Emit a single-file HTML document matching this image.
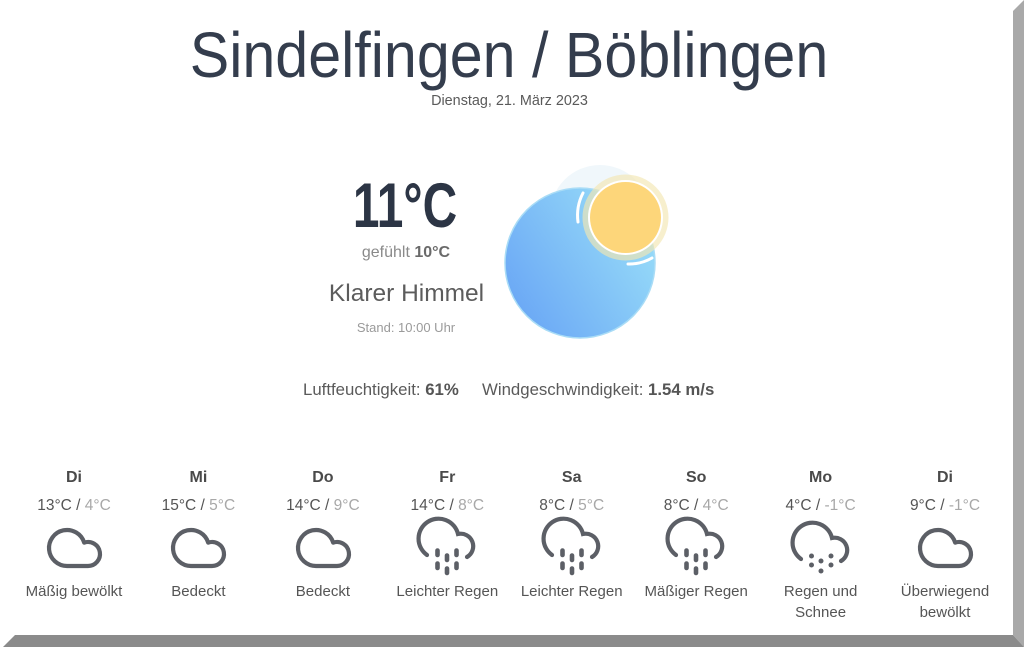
<!DOCTYPE html>
<html><head><meta charset="utf-8">
<style>
html,body{margin:0;padding:0;background:#fff;}
body{width:1024px;height:647px;position:relative;overflow:hidden;font-family:"Liberation Sans",Arial,sans-serif;}
.t{position:absolute;line-height:1;white-space:nowrap;text-align:center;}
.col{position:absolute;width:124px;text-align:center;}
.day{position:absolute;left:0;width:124px;top:470px;font-size:16px;font-weight:bold;color:#4a4a4a;line-height:1;}
.tmp{position:absolute;left:-10px;width:144px;top:497.5px;font-size:15.5px;color:#555;line-height:1;}
.tmp span{color:#a8a8a8;}
.desc{position:absolute;left:-10px;width:144px;top:581px;font-size:15px;color:#555;line-height:21px;}
.ico{position:absolute;left:27px;top:512px;}
</style></head>
<body>
<svg width="1024" height="647" style="position:absolute;left:0;top:0" xmlns="http://www.w3.org/2000/svg">
  <polygon points="1013,11 1024,0 1024,647 1013,635" fill="#a9a9a9"/>
  <polygon points="15,635 1013,635 1024,647 3,647" fill="#8b8b8b"/>
  <defs>
    <linearGradient id="bg" x1="0.1" y1="0.9" x2="0.95" y2="0.35">
      <stop offset="0" stop-color="#6aa7f5"/>
      <stop offset="1" stop-color="#95d9f8"/>
    </linearGradient>
  </defs>
  <circle cx="600" cy="215" r="50" fill="#f0f7fb"/>
  <circle cx="580" cy="263" r="75" fill="url(#bg)" stroke="#a9dcf6" stroke-width="1.5"/>
  <circle cx="625.5" cy="217.5" r="43" fill="#f3e7b2" fill-opacity="0.65"/>
  <path d="M583 193 A49 49 0 0 0 578 222" fill="none" stroke="#fff" stroke-width="3" stroke-linecap="round"/>
  <path d="M628 264 A46 46 0 0 0 652 258" fill="none" stroke="#fff" stroke-width="3" stroke-linecap="round"/>
  <circle cx="625.5" cy="217.5" r="37.5" fill="#ffffff"/>
  <circle cx="625.5" cy="217.5" r="35.5" fill="#fdd67a"/>
</svg>

<div class="t" style="left:-3px;width:1024px;top:22.8px;font-size:64px;color:#343d4d;transform:scaleX(0.925);">Sindelfingen / Böblingen</div>
<div class="t" style="left:0;width:1019px;top:94px;font-size:14.4px;color:#5a5a5a;">Dienstag, 21. März 2023</div>

<div class="t" style="left:305px;width:200px;top:174.5px;font-size:63px;font-weight:bold;color:#2c3545;transform:scaleX(0.76);">11°C</div>
<div class="t" style="left:306px;width:200px;top:245px;font-size:16px;color:#8a8a8a;">gefühlt <b style="color:#6a6a6a">10°C</b></div>
<div class="t" style="left:306.5px;width:200px;top:282px;font-size:24.5px;color:#5c5c5c;">Klarer Himmel</div>
<div class="t" style="left:306px;width:200px;top:321px;font-size:13px;color:#9a9a9a;">Stand: 10:00 Uhr</div>

<div class="t" style="left:303px;top:382px;font-size:16.8px;color:#5a5a5a;text-align:left;">Luftfeuchtigkeit: <b style="color:#555">61%</b></div>
<div class="t" style="left:482px;top:382px;font-size:16.8px;color:#5a5a5a;text-align:left;">Windgeschwindigkeit: <b style="color:#555">1.54 m/s</b></div>

<!-- forecast columns -->
<div class="col" style="left:12px;top:0;">
  <div class="day">Di</div>
  <div class="tmp">13°C / <span>4°C</span></div>
  <svg class="ico" width="70" height="70" viewBox="0 0 70 70"><g transform="translate(7,14)"><path d="M21 40 A18 18 0 1 1 38.18 16.62 A12 12 0 1 1 42 40 Z" fill="none" stroke="#5c5f66" stroke-width="4.2" stroke-linejoin="round"/></g></svg>
  <div class="desc">Mäßig bewölkt</div>
</div>
<div class="col" style="left:136.4px;top:0;">
  <div class="day">Mi</div>
  <div class="tmp">15°C / <span>5°C</span></div>
  <svg class="ico" width="70" height="70" viewBox="0 0 70 70"><g transform="translate(7,14)"><path d="M21 40 A18 18 0 1 1 38.18 16.62 A12 12 0 1 1 42 40 Z" fill="none" stroke="#5c5f66" stroke-width="4.2" stroke-linejoin="round"/></g></svg>
  <div class="desc">Bedeckt</div>
</div>
<div class="col" style="left:260.9px;top:0;">
  <div class="day">Do</div>
  <div class="tmp">14°C / <span>9°C</span></div>
  <svg class="ico" width="70" height="70" viewBox="0 0 70 70"><g transform="translate(7,14)"><path d="M21 40 A18 18 0 1 1 38.18 16.62 A12 12 0 1 1 42 40 Z" fill="none" stroke="#5c5f66" stroke-width="4.2" stroke-linejoin="round"/></g></svg>
  <div class="desc">Bedeckt</div>
</div>
<div class="col" style="left:385.3px;top:0;">
  <div class="day">Fr</div>
  <div class="tmp">14°C / <span>8°C</span></div>
  <svg class="ico" width="70" height="70" viewBox="0 0 70 70"><g fill="none" stroke="#5c5f66" stroke-width="4.2" stroke-linecap="round"><path d="M15 43 A20 20 0 1 1 46 22 A12.5 12.5 0 0 1 55 45"/><path d="M25.5 38.5V43M25.5 51.5V56M44.5 38.5V43M44.5 51.5V56M35 43.5V48M35 56.5V61" stroke-width="4.6"/></g></svg>
  <div class="desc">Leichter Regen</div>
</div>
<div class="col" style="left:509.7px;top:0;">
  <div class="day">Sa</div>
  <div class="tmp">8°C / <span>5°C</span></div>
  <svg class="ico" width="70" height="70" viewBox="0 0 70 70"><g fill="none" stroke="#5c5f66" stroke-width="4.2" stroke-linecap="round"><path d="M15 43 A20 20 0 1 1 46 22 A12.5 12.5 0 0 1 55 45"/><path d="M25.5 38.5V43M25.5 51.5V56M44.5 38.5V43M44.5 51.5V56M35 43.5V48M35 56.5V61" stroke-width="4.6"/></g></svg>
  <div class="desc">Leichter Regen</div>
</div>
<div class="col" style="left:634.2px;top:0;">
  <div class="day">So</div>
  <div class="tmp">8°C / <span>4°C</span></div>
  <svg class="ico" width="70" height="70" viewBox="0 0 70 70"><g fill="none" stroke="#5c5f66" stroke-width="4.2" stroke-linecap="round"><path d="M15 43 A20 20 0 1 1 46 22 A12.5 12.5 0 0 1 55 45"/><path d="M25.5 38.5V43M25.5 51.5V56M44.5 38.5V43M44.5 51.5V56M35 43.5V48M35 56.5V61" stroke-width="4.6"/></g></svg>
  <div class="desc">Mäßiger Regen</div>
</div>
<div class="col" style="left:758.6px;top:0;">
  <div class="day">Mo</div>
  <div class="tmp">4°C / <span>-1°C</span></div>
  <svg class="ico" width="70" height="70" viewBox="0 0 70 70"><g transform="translate(0,4)"><path d="M15 43 A20 20 0 1 1 46 22 A12.5 12.5 0 0 1 55 45" fill="none" stroke="#5c5f66" stroke-width="4.2" stroke-linecap="round"/></g><g fill="#5c5f66"><circle cx="25.5" cy="44" r="2.5"/><circle cx="45" cy="44" r="2.5"/><circle cx="35" cy="49" r="2.5"/><circle cx="25.5" cy="53" r="2.5"/><circle cx="45" cy="53" r="2.5"/><circle cx="35" cy="59" r="2.5"/></g></svg>
  <div class="desc">Regen und<br>Schnee</div>
</div>
<div class="col" style="left:883px;top:0;">
  <div class="day">Di</div>
  <div class="tmp">9°C / <span>-1°C</span></div>
  <svg class="ico" width="70" height="70" viewBox="0 0 70 70"><g transform="translate(7,14)"><path d="M21 40 A18 18 0 1 1 38.18 16.62 A12 12 0 1 1 42 40 Z" fill="none" stroke="#5c5f66" stroke-width="4.2" stroke-linejoin="round"/></g></svg>
  <div class="desc">Überwiegend<br>bewölkt</div>
</div>
</body></html>
